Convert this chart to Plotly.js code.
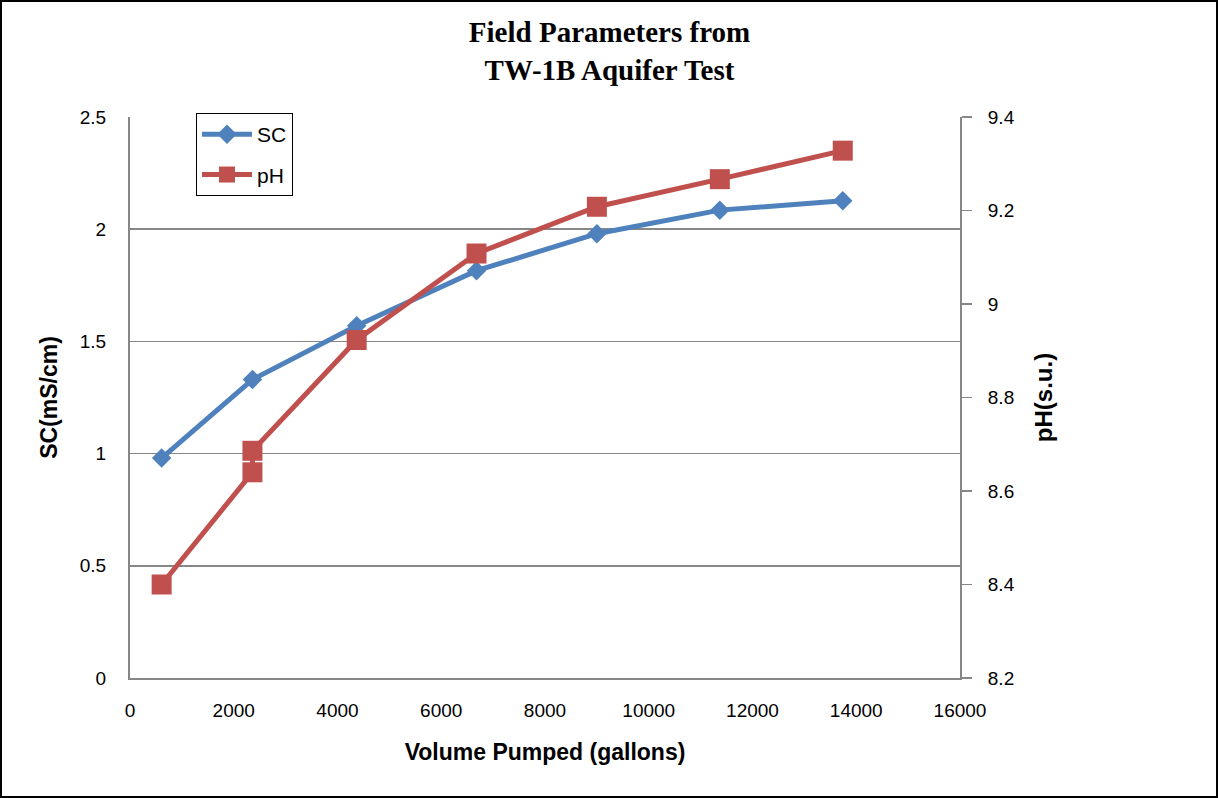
<!DOCTYPE html>
<html>
<head>
<meta charset="utf-8">
<script src="https://cdn.plot.ly/plotly-3.0.1.min.js"></script>
<style>
  html, body { margin: 0; padding: 0; background: #ffffff; }
  #wrap { position: relative; width: 1219px; height: 798px; }
  #chart { width: 1219px; height: 798px; }
  #frame {
    position: absolute; left: 0; top: 0; width: 1218px; height: 798px;
    box-sizing: border-box; border: 2px solid #000000; pointer-events: none;
  }
</style>
</head>
<body>
<div id="wrap">
  <div id="chart"></div>
  <div id="frame"></div>
</div>
<script>
// Specific conductance readings against cumulative volume pumped
const scVolume = [610, 2360, 4370, 6680, 9000, 11370, 13740];
const scValues = [0.98, 1.33, 1.57, 1.815, 1.98, 2.085, 2.127];

// pH readings (two readings were logged at about 2,360 gallons)
const phVolume = [610, 2360, 2360, 4370, 6680, 9000, 11370, 13740];
const phValues = [8.40, 8.64, 8.686, 8.923, 9.108, 9.208, 9.267, 9.328];

const scTicks = [0, 0.5, 1, 1.5, 2, 2.5];
const phTicks = [8.2, 8.4, 8.6, 8.8, 9.0, 9.2, 9.4];
const phTickText = ['8.2', '8.4', '8.6', '8.8', '9', '9.2', '9.4'];
const volumeTicks = [0, 2000, 4000, 6000, 8000, 10000, 12000, 14000, 16000];

const SANS = 'Liberation Sans, Arial, sans-serif';
const SERIF = 'Liberation Serif, Times New Roman, serif';
const GRID = '#878787';

const traces = [
  {
    x: scVolume, y: scValues, name: 'SC', type: 'scatter', mode: 'lines+markers',
    yaxis: 'y', legendgroup: 'sc',
    line: { color: '#4F81BD', width: 5 },
    marker: { symbol: 'diamond', size: 15, color: '#4F81BD' }
  },
  {
    x: phVolume, y: phValues, name: 'pH', type: 'scatter', mode: 'lines+markers',
    yaxis: 'y2', legendgroup: 'ph',
    line: { color: '#C0504D', width: 5 },
    marker: { symbol: 'square', size: 20, color: '#C0504D' }
  }
];

const layout = {
  width: 1219, height: 798,
  paper_bgcolor: '#ffffff', plot_bgcolor: '#ffffff',
  margin: { l: 130, r: 259, t: 117, b: 120 },
  showlegend: true,
  title: {
    text: '<b>Field Parameters from<br>TW-1B Aquifer Test</b>',
    font: { family: SERIF, size: 29, color: '#000000' },
    x: 0.5, xref: 'container', xanchor: 'center',
    y: 1 - 42 / 798, yref: 'container', yanchor: 'top'
  },
  xaxis: {
    range: [0, 16000], tickvals: volumeTicks, ticktext: volumeTicks.map(String),
    showgrid: false, zeroline: false,
    showline: true, linecolor: GRID, linewidth: 2,
    ticks: '', ticklabelstandoff: 14,
    tickfont: { family: SANS, size: 19, color: '#000000' },
    title: { text: '<b>Volume Pumped (gallons)</b>', font: { family: SANS, size: 23, color: '#000000' }, standoff: 24 }
  },
  yaxis: {
    range: [0, 2.5], tickvals: scTicks, ticktext: ['0', '0.5', '1', '1.5', '2', '2.5'],
    showgrid: true, gridcolor: GRID, gridwidth: 1.5, zeroline: false,
    showline: true, linecolor: GRID, linewidth: 2,
    ticks: '', ticklabelstandoff: 18,
    tickfont: { family: SANS, size: 19, color: '#000000' },
    title: { text: '<b>SC(mS/cm)</b>', font: { family: SANS, size: 23, color: '#000000' }, standoff: 16 }
  },
  yaxis2: {
    range: [8.2, 9.4], tickvals: phTicks, ticktext: phTickText,
    overlaying: 'y', side: 'right',
    showgrid: false, zeroline: false,
    showline: true, linecolor: GRID, linewidth: 2,
    ticks: 'outside', ticklen: 10, tickcolor: GRID, tickwidth: 1.5,
    ticklabelstandoff: 12,
    tickfont: { family: SANS, size: 19, color: '#000000' },
    title: { text: '<b>pH(s.u.)</b>', font: { family: SANS, size: 24, color: '#000000' }, standoff: 22 }
  },
  legend: {
    x: 0.0795, y: 1.007, xanchor: 'left', yanchor: 'top',
    bgcolor: '#ffffff', bordercolor: '#000000', borderwidth: 1,
    font: { family: SANS, size: 21, color: '#000000' },
    traceorder: 'grouped', tracegroupgap: 10,
    itemwidth: 50
  }
};

Plotly.newPlot('chart', traces, layout, { displayModeBar: false, staticPlot: true });
</script>
</body>
</html>
